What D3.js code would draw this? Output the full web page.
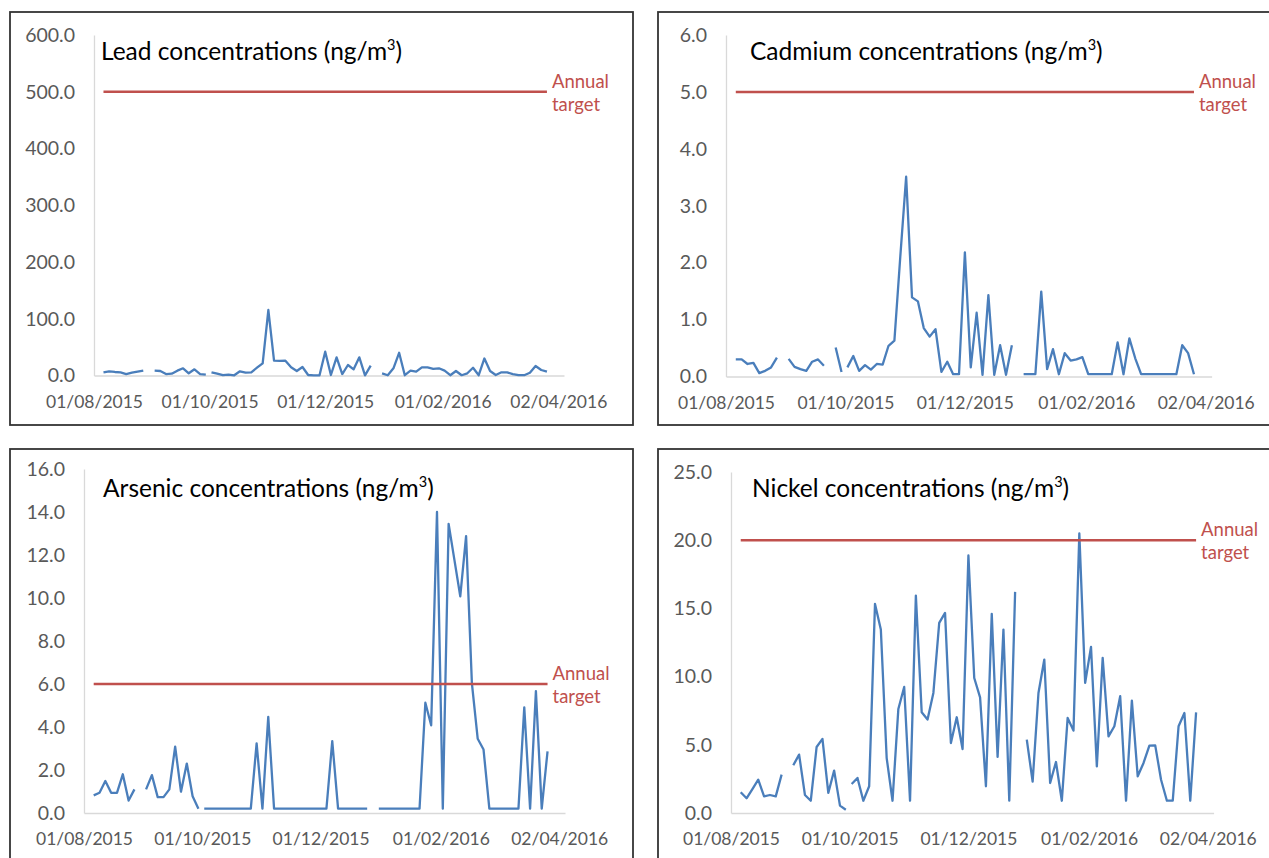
<!DOCTYPE html>
<html>
<head>
<meta charset="utf-8">
<script src="https://cdn.jsdelivr.net/npm/d3@7"></script>
<style>
  body { margin: 0; background: #fff; }
  svg text { font-family: Lato, "Open Sans", sans-serif; }
</style>
</head>
<body>
<svg id="chart" width="1269" height="858"></svg>
<script>
// sampling dates (one blank day on 30/09 breaks every series)
var sampleDates = [
  "2015-08-06","2015-08-09","2015-08-12","2015-08-15","2015-08-18","2015-08-21","2015-08-24","2015-08-27","2015-08-30",
  "2015-09-02","2015-09-05","2015-09-08","2015-09-11","2015-09-14","2015-09-17","2015-09-20","2015-09-23","2015-09-26","2015-09-29","2015-09-30",
  "2015-10-02","2015-10-05","2015-10-08","2015-10-11","2015-10-14","2015-10-17","2015-10-20","2015-10-23","2015-10-26","2015-10-29",
  "2015-11-01","2015-11-04","2015-11-07","2015-11-10","2015-11-13","2015-11-16","2015-11-19","2015-11-22","2015-11-25","2015-11-28",
  "2015-12-01","2015-12-04","2015-12-07","2015-12-10","2015-12-13","2015-12-16","2015-12-19","2015-12-22","2015-12-25","2015-12-28","2015-12-31",
  "2016-01-03","2016-01-06","2016-01-09","2016-01-12","2016-01-15","2016-01-18","2016-01-21","2016-01-24","2016-01-27","2016-01-30",
  "2016-02-02","2016-02-05","2016-02-08","2016-02-11","2016-02-14","2016-02-17","2016-02-20","2016-02-23","2016-02-26","2016-02-29",
  "2016-03-03","2016-03-06","2016-03-09","2016-03-12","2016-03-15","2016-03-18","2016-03-21","2016-03-24","2016-03-27"
];

var leadValues = [
  5.6, 7.4, 6.2, 5.6, 2.6, 4.9, 6.7, 8.5, null,
  8.5, 7.9, 2.6, 3.2, 8.5, 12.7, 3.9, 10.9, 2.6, 1.4, null,
  5.6, 3.2, 0.5, 1.4, 0.4, 7.4, 4.9, 5.6, 13.7, 21.5,
  115.4, 26.1, 25.6, 26.1, 14.4, 7.9, 15.0, 0.9, 0.3, 0.3,
  42.0, 0.9, 32.0, 2.6, 18.5, 10.9, 32.0, 0.3, 17.3, null, 3.9,
  0.5, 12.7, 40.0, 0.5, 8.5, 6.7, 14.4, 14.4, 11.5, 12.7,
  8.5, 0.5, 7.9, 0.5, 3.9, 13.7, 0.5, 30.0, 7.9, 0.9,
  5.6, 5.6, 2.6, 0.5, 0.5, 4.9, 16.7, 9.7, 6.7
];

var cadmiumValues = [
  0.30, 0.30, 0.22, 0.24, 0.06, 0.10, 0.16, 0.33, null,
  0.31, 0.17, 0.13, 0.10, 0.26, 0.30, 0.19, null, 0.51, 0.08, null,
  0.16, 0.36, 0.10, 0.20, 0.12, 0.22, 0.21, 0.54, 0.63, 2.10,
  3.51, 1.39, 1.32, 0.85, 0.70, 0.83, 0.08, 0.26, 0.04, 0.04,
  2.18, 0.16, 1.12, 0.03, 1.43, 0.03, 0.55, 0.03, 0.55, null, 0.04,
  0.04, 0.04, 1.49, 0.13, 0.48, 0.04, 0.41, 0.28, 0.30, 0.34,
  0.04, 0.04, 0.04, 0.04, 0.04, 0.60, 0.04, 0.67, 0.32, 0.04,
  0.04, 0.04, 0.04, 0.04, 0.04, 0.04, 0.55, 0.41, 0.04
];

var arsenicValues = [
  0.82, 0.94, 1.49, 0.94, 0.94, 1.80, 0.58, 1.10, null,
  1.10, 1.76, 0.74, 0.74, 1.10, 3.09, 0.99, 2.30, 0.78, 0.20, null,
  0.20, 0.20, 0.20, 0.20, 0.20, 0.20, 0.20, 0.20, 0.20, 3.24,
  0.20, 4.47, 0.20, 0.20, 0.20, 0.20, 0.20, 0.20, 0.20, 0.20,
  0.20, 0.20, 3.34, 0.20, 0.20, 0.20, 0.20, 0.20, 0.20, null, 0.20,
  0.20, 0.20, 0.20, 0.20, 0.20, 0.20, 0.20, 5.13, 4.08, 14.0,
  0.20, 13.45, 11.76, 10.08, 12.88, 6.03, 3.45, 2.95, 0.20, 0.20,
  0.20, 0.20, 0.20, 0.20, 4.91, 0.20, 5.67, 0.20, 2.87
];

var nickelValues = [
  1.52, 1.08, 1.75, 2.44, 1.22, 1.32, 1.22, 2.81, null,
  3.50, 4.28, 1.32, 0.90, 4.84, 5.43, 1.47, 3.11, 0.54, 0.24, null,
  2.13, 2.57, 0.90, 1.96, 15.33, 13.45, 4.03, 0.90, 7.63, 9.24,
  0.90, 15.94, 7.38, 6.85, 8.80, 13.94, 14.67, 5.13, 7.02, 4.69,
  18.88, 9.90, 8.48, 1.96, 14.60, 4.11, 13.45, 0.90, 16.21, null, 5.38,
  2.30, 8.80, 11.25, 2.20, 3.74, 0.90, 6.97, 6.04, 20.49, 9.54,
  12.18, 3.42, 11.37, 5.62, 6.36, 8.56, 0.90, 8.24, 2.69, 3.67,
  4.94, 4.96, 2.44, 0.90, 0.90, 6.36, 7.33, 0.90, 7.38
];

var leadTicks = [0, 100, 200, 300, 400, 500, 600];
var cadmiumTicks = [0, 1, 2, 3, 4, 5, 6];
var arsenicTicks = [0, 2, 4, 6, 8, 10, 12, 14, 16];
var nickelTicks = [0, 5, 10, 15, 20, 25];

var leadTarget = 500, cadmiumTarget = 5, arsenicTarget = 6, nickelTarget = 20;

var xTickDates = ["2015-08-01", "2015-10-01", "2015-12-01", "2016-02-01", "2016-04-02"];
var axisStart = "2015-08-01", axisEnd = "2016-04-05";

var parseDate = d3.utcParse("%Y-%m-%d");
var formatDate = d3.utcFormat("%d/%m/%Y");
var svg = d3.select("#chart");

function buildPanel(opts) {
  var g = svg.append("g");

  g.append("rect")
      .attr("x", opts.frame[0]).attr("y", opts.frame[1])
      .attr("width", opts.frame[2]).attr("height", opts.frame[3])
      .attr("fill", "none").attr("stroke", "#333").attr("stroke-width", 1.8);

  var x = d3.scaleUtc()
      .domain([parseDate(axisStart), parseDate(axisEnd)])
      .range([opts.left, opts.right]);
  var y = d3.scaleLinear()
      .domain([0, d3.max(opts.ticks)])
      .range([opts.bottom, opts.top]);

  var xAxis = d3.axisBottom(x)
      .tickValues(xTickDates.map(parseDate))
      .tickFormat(formatDate)
      .tickSize(0).tickPadding(20);
  var yAxis = d3.axisLeft(y)
      .tickValues(opts.ticks)
      .tickFormat(d3.format(".1f"))
      .tickSize(0).tickPadding(19);

  var xg = g.append("g").attr("transform", "translate(0," + opts.bottom + ")").call(xAxis);
  var yg = g.append("g").attr("transform", "translate(" + opts.left + ",0)").call(yAxis);

  [xg, yg].forEach(function(a) {
    a.select(".domain").attr("stroke", "#d9d9d9").attr("stroke-width", 1.3);
    a.selectAll("text").attr("fill", "#595959");
  });
  xg.selectAll("text").attr("font-size", 17.5);
  yg.selectAll("text").attr("font-size", 19.5);

  var data = sampleDates.map(function(d, i) {
    return { date: parseDate(d), value: opts.values[i] };
  });

  var line = d3.line()
      .defined(function(d) { return d.value != null; })
      .x(function(d) { return x(d.date); })
      .y(function(d) { return y(d.value); });

  // annual target drawn across the sampled period
  var targetData = [data[0], data[data.length - 1]].map(function(d) {
    return { date: d.date, value: opts.target };
  });

  g.append("path")
      .datum(data)
      .attr("fill", "none")
      .attr("stroke", "#4a7ebb")
      .attr("stroke-width", 2.3)
      .attr("stroke-linejoin", "round")
      .attr("d", line);

  g.append("path")
      .datum(targetData)
      .attr("fill", "none")
      .attr("stroke", "#c0504d")
      .attr("stroke-width", 2.5)
      .attr("d", line);

  var tx = x(targetData[1].date) + 5, ty = y(opts.target);
  g.append("text").attr("x", tx).attr("y", ty - 4)
      .attr("fill", "#c0504d").attr("font-size", 18.5).text("Annual");
  g.append("text").attr("x", tx).attr("y", ty + 19)
      .attr("fill", "#c0504d").attr("font-size", 18.5).text("target");

  var title = g.append("text")
      .attr("x", opts.titleX).attr("y", opts.titleY)
      .attr("fill", "#000").attr("font-size", 24.5);
  title.append("tspan").text(opts.name + " concentrations (ng/m");
  title.append("tspan").attr("font-size", 14.5).attr("dy", -10).text("3");
  title.append("tspan").attr("dy", 10).text(")");
}

buildPanel({ name: "Lead", values: leadValues, ticks: leadTicks, target: leadTarget,
  frame: [10, 12, 623, 413], left: 94, right: 564, bottom: 375.5, top: 35, titleX: 101, titleY: 60 });
buildPanel({ name: "Cadmium", values: cadmiumValues, ticks: cadmiumTicks, target: cadmiumTarget,
  frame: [658, 12, 640, 413], left: 726, right: 1211.6, bottom: 376.5, top: 35, titleX: 750, titleY: 60 });
buildPanel({ name: "Arsenic", values: arsenicValues, ticks: arsenicTicks, target: arsenicTarget,
  frame: [10, 449, 623, 440], left: 84, right: 565, bottom: 813, top: 469, titleX: 103, titleY: 497 });
buildPanel({ name: "Nickel", values: nickelValues, ticks: nickelTicks, target: nickelTarget,
  frame: [658, 449, 640, 440], left: 731, right: 1213.6, bottom: 813, top: 472, titleX: 752, titleY: 497 });
</script>
</body>
</html>
